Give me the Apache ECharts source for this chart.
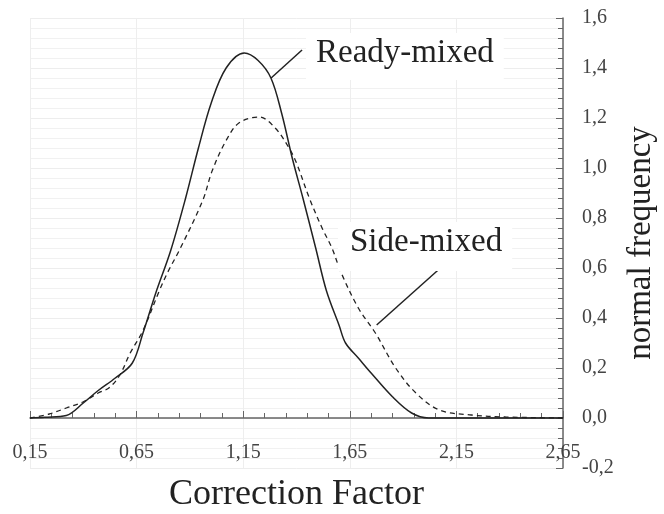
<!DOCTYPE html>
<html>
<head>
<meta charset="utf-8">
<script src="https://cdn.jsdelivr.net/npm/echarts@6/dist/echarts.min.js"></script>
<style>
  html, body { margin: 0; padding: 0; background: #fff; }
  #chart { width: 664px; height: 514px; }
</style>
</head>
<body>
<div id="chart"></div>
<script>
// Ready-mixed (solid line)
const readyX = [0.15, 0.22, 0.32, 0.40, 0.47, 0.55, 0.63, 0.68, 0.74, 0.81, 0.88, 0.94, 1.00, 1.07, 1.155, 1.22, 1.28, 1.33, 1.38, 1.43, 1.49, 1.54, 1.60, 1.63, 1.69, 1.75, 1.85, 1.94, 2.02, 2.65];
const readyY = [0, 0.003, 0.01, 0.06, 0.11, 0.16, 0.22, 0.34, 0.50, 0.67, 0.88, 1.08, 1.26, 1.40, 1.46, 1.43, 1.36, 1.22, 1.04, 0.88, 0.68, 0.51, 0.37, 0.30, 0.24, 0.18, 0.085, 0.02, 0, 0];
// Side-mixed (dashed line)
const sideX = [0.15, 0.24, 0.32, 0.40, 0.47, 0.52, 0.57, 0.62, 0.68, 0.757, 0.80, 0.85, 0.96, 1.005, 1.07, 1.13, 1.225, 1.30, 1.365, 1.40, 1.46, 1.52, 1.566, 1.61, 1.69, 1.77, 1.865, 1.96, 2.07, 2.22, 2.38, 2.65];
const sideY = [0, 0.016, 0.04, 0.065, 0.10, 0.12, 0.17, 0.26, 0.35, 0.51, 0.59, 0.67, 0.87, 0.99, 1.11, 1.18, 1.204, 1.16, 1.08, 1.02, 0.88, 0.76, 0.68, 0.58, 0.44, 0.34, 0.20, 0.10, 0.032, 0.012, 0.004, 0];

// annotation arrows: [from, to] in data units
const readyArrow = [[1.426, 1.472], [1.281, 1.36]];
const sideArrow = [[2.075, 0.60], [1.776, 0.372]];

const xMin = 0.15, xMax = 2.65, xStep = 0.5;
const yMin = -0.2, yMax = 1.6, yStep = 0.2;

const font = '"Liberation Serif", "Times New Roman", serif';
const zip = (xs, ys) => xs.map((x, i) => [x, ys[i]]);

const chart = echarts.init(document.getElementById('chart'));

const arrowLine = (pts) => ({
    silent: true,
    symbol: ['none', 'arrow'],
    symbolSize: [0, 13],
    label: { show: false },
    lineStyle: { color: '#222', width: 1.5, type: 'solid' },
    data: [[{ coord: pts[0] }, { coord: pts[1] }]]
});

chart.setOption({
    animation: false,
    backgroundColor: '#fff',
    grid: { left: 30, right: 101, top: 18, bottom: 46, outerBoundsMode: 'none', containLabel: false },
    xAxis: {
        type: 'value',
        min: xMin,
        max: xMax,
        interval: xStep,
        name: 'Correction Factor',
        nameLocation: 'middle',
        nameGap: 9,
        nameTextStyle: { fontFamily: font, fontSize: 36, color: '#222' },
        axisLine: { onZero: true, lineStyle: { color: '#666', width: 1.5 } },
        axisTick: { inside: true, length: 7, lineStyle: { color: '#666' } },
        minorTick: { show: true, splitNumber: 5, length: 5, lineStyle: { color: '#666' } },
        axisLabel: {
            fontFamily: font, fontSize: 20, color: '#444', margin: -25,
            formatter: v => v.toFixed(2).replace('.', ',')
        },
        splitLine: { show: true, lineStyle: { color: '#eeeeee', width: 1 } }
    },
    yAxis: {
        type: 'value',
        position: 'right',
        min: yMin,
        max: yMax,
        interval: yStep,
        name: 'normal frequency',
        nameLocation: 'middle',
        nameRotate: 90,
        nameGap: 62,
        nameTextStyle: { fontFamily: font, fontSize: 33, color: '#222' },
        axisLine: { show: true, lineStyle: { color: '#666', width: 1.5 } },
        axisTick: { show: true, inside: true, length: 7, lineStyle: { color: '#666' } },
        minorTick: { show: true, splitNumber: 5, length: 5, lineStyle: { color: '#666' } },
        axisLabel: {
            fontFamily: font, fontSize: 20, color: '#444', margin: 19,
            formatter: v => v.toFixed(1).replace('.', ',')
        },
        splitLine: { show: true, lineStyle: { color: '#ededed', width: 1 } },
        minorSplitLine: { show: true, lineStyle: { color: '#f1f1f1', width: 1 } }
    },
    graphic: [
        {
            type: 'text', left: 306, top: 33, z: 100, silent: true,
            style: {
                text: 'Ready-mixed', font: '33px ' + font, fill: '#222',
                backgroundColor: '#fff', padding: [4, 10, 10, 10]
            }
        },
        {
            type: 'text', left: 338, top: 222, z: 100, silent: true,
            style: {
                text: 'Side-mixed', font: '33px ' + font, fill: '#222',
                backgroundColor: '#fff', padding: [4, 10, 12, 12]
            }
        }
    ],
    series: [
        {
            name: 'Ready-mixed',
            type: 'line',
            data: zip(readyX, readyY),
            smooth: 0.35,
            showSymbol: false,
            lineStyle: { color: '#222', width: 1.5, type: 'solid' },
            markLine: arrowLine(readyArrow)
        },
        {
            name: 'Side-mixed',
            type: 'line',
            data: zip(sideX, sideY),
            smooth: 0.35,
            showSymbol: false,
            lineStyle: { color: '#222', width: 1.3, type: [5, 4] },
            markLine: arrowLine(sideArrow)
        }
    ]
});
</script>
</body>
</html>
